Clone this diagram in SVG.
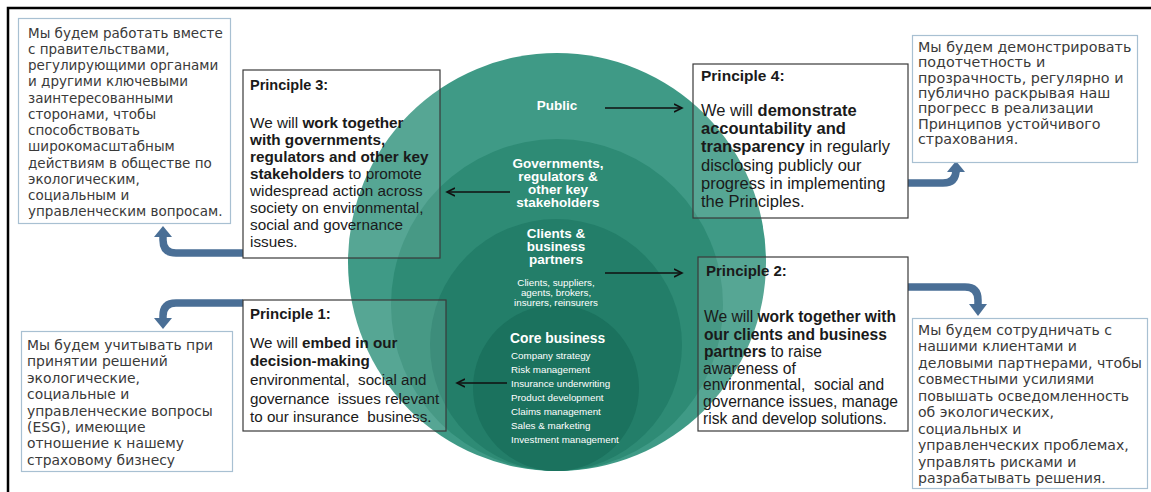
<svg xmlns="http://www.w3.org/2000/svg" width="1151" height="492" viewBox="0 0 1151 492">
<defs>
<style>
.ru{font-family:"DejaVu Sans","Noto Sans",sans-serif;fill:#3a3a3a}
.rbox{fill:#ffffff;stroke:#a8c0d2;stroke-width:1.2}
.pbox{fill:#ffffff;fill-opacity:0.12;stroke:#3a3a3a;stroke-width:1.2}
.pt{font-family:"Liberation Sans",Arial,sans-serif;fill:#1a1a1a}
.pt tspan.b{font-weight:bold}
.ct{font-family:"Liberation Sans",Arial,sans-serif;fill:#ffffff}
.blue{fill:none;stroke:#4a6f96;stroke-width:7.5}
.bhead{fill:#4a6f96}
.blk{fill:none;stroke:#111;stroke-width:1.6;marker-end:url(#ah)}
</style>
<marker id="ah" markerWidth="10" markerHeight="10" refX="8" refY="5" orient="auto" markerUnits="userSpaceOnUse">
<path d="M0,1 L8,5 L0,9" fill="none" stroke="#111" stroke-width="1.6"/>
</marker>
</defs>
<rect x="0" y="0" width="1151" height="492" fill="#ffffff"/>
<path d="M8,492 V8 H1151" fill="none" stroke="#000" stroke-width="2.5"/>

<g id="circles">
<circle cx="557" cy="262" r="209" fill="#3f9a86"/>
<circle cx="557" cy="305" r="166" fill="#2e8b75"/>
<circle cx="556" cy="345" r="126" fill="#237e69"/>
<circle cx="556" cy="388" r="83" fill="#1b725e"/>
</g>

<g id="circle-labels">
<text class="ct" x="557" y="110" font-size="13.5" font-weight="bold" text-anchor="middle">Public</text>
<text class="ct" font-size="13.5" font-weight="bold" text-anchor="middle"><tspan x="558" y="168">Governments,</tspan><tspan x="558" y="181">regulators &amp;</tspan><tspan x="558" y="194">other key</tspan><tspan x="558" y="207">stakeholders</tspan></text>
<text class="ct" font-size="13.5" font-weight="bold" text-anchor="middle"><tspan x="556" y="238">Clients &amp;</tspan><tspan x="556" y="251">business</tspan><tspan x="556" y="264">partners</tspan></text>
<text class="ct" font-size="9.8" text-anchor="middle"><tspan x="556" y="286">Clients, suppliers,</tspan><tspan x="556" y="296">agents, brokers,</tspan><tspan x="556" y="306">insurers, reinsurers</tspan></text>
<text class="ct" x="510" y="343" font-size="13.8" font-weight="bold">Core business</text>
<text class="ct" font-size="9.8"><tspan x="511" y="359">Company strategy</tspan><tspan x="511" y="373">Risk management</tspan><tspan x="511" y="387">Insurance underwriting</tspan><tspan x="511" y="401">Product development</tspan><tspan x="511" y="415">Claims management</tspan><tspan x="511" y="429">Sales &amp; marketing</tspan><tspan x="511" y="443">Investment management</tspan></text>
</g>

<g id="connectors">
<line class="blk" x1="605" y1="108" x2="682" y2="108"/>
<line class="blk" x1="510" y1="192" x2="447" y2="192"/>
<line class="blk" x1="605" y1="273" x2="682" y2="273"/>
<line class="blk" x1="507" y1="383" x2="457" y2="383"/>
<path class="blue" d="M243,253 H176 Q163,253 163,240 V236"/>
<path class="bhead" d="M154,237 L172,237 L163,226 Z"/>
<path class="blue" d="M243,303 H176 Q163,303 163,316 V319"/>
<path class="bhead" d="M154,318 L172,318 L163,329 Z"/>
<path class="blue" d="M908,183 H943 Q956,183 956,170 V173"/>
<path class="bhead" d="M947,172 L965,172 L956,161 Z"/>
<path class="blue" d="M908,287 H965 Q978,287 978,300 V305"/>
<path class="bhead" d="M969,304 L987,304 L978,316 Z"/>
</g>

<g id="ru-p3">
<rect class="rbox" x="18.5" y="18.5" width="212" height="205"/>
<text class="ru" font-size="13.5"><tspan x="28" y="38">Мы будем работать вместе</tspan><tspan x="28" y="54">с правительствами,</tspan><tspan x="28" y="70">регулирующими органами</tspan><tspan x="28" y="86">и другими ключевыми</tspan><tspan x="28" y="103">заинтересованными</tspan><tspan x="28" y="119">сторонами, чтобы</tspan><tspan x="28" y="135">способствовать</tspan><tspan x="28" y="151">широкомасштабным</tspan><tspan x="28" y="168">действиям в обществе по</tspan><tspan x="28" y="184">экологическим,</tspan><tspan x="28" y="200">социальным и</tspan><tspan x="28" y="216">управленческим вопросам.</tspan></text>
</g>

<g id="ru-p4">
<rect class="rbox" x="912.5" y="35.5" width="225" height="127"/>
<text class="ru" font-size="14.3"><tspan x="918" y="52">Мы будем демонстрировать</tspan><tspan x="918" y="67">подотчетность и</tspan><tspan x="918" y="83">прозрачность, регулярно и</tspan><tspan x="918" y="98">публично раскрывая наш</tspan><tspan x="918" y="113">прогресс в реализации</tspan><tspan x="918" y="129">Принципов устойчивого</tspan><tspan x="918" y="144">страхования.</tspan></text>
</g>

<g id="ru-p1">
<rect class="rbox" x="21.5" y="331.5" width="211" height="140"/>
<text class="ru" font-size="13.9"><tspan x="27" y="350">Мы будем учитывать при</tspan><tspan x="27" y="366">принятии решений</tspan><tspan x="27" y="383">экологические,</tspan><tspan x="27" y="399">социальные и</tspan><tspan x="27" y="416">управленческие вопросы</tspan><tspan x="27" y="432">(ESG), имеющие</tspan><tspan x="27" y="448">отношение к нашему</tspan><tspan x="27" y="465">страховому бизнесу</tspan></text>
</g>

<g id="ru-p2">
<rect class="rbox" x="912.5" y="318.5" width="235" height="170"/>
<text class="ru" font-size="14.1"><tspan x="918" y="335">Мы будем сотрудничать с</tspan><tspan x="918" y="351">нашими клиентами и</tspan><tspan x="918" y="368">деловыми партнерами, чтобы</tspan><tspan x="918" y="384">совместными усилиями</tspan><tspan x="918" y="401">повышать осведомленность</tspan><tspan x="918" y="417">об экологических,</tspan><tspan x="918" y="434">социальных и</tspan><tspan x="918" y="450">управленческих проблемах,</tspan><tspan x="918" y="467">управлять рисками и</tspan><tspan x="918" y="483">разрабатывать решения.</tspan></text>
</g>

<g id="principle3">
<rect class="pbox" x="243" y="70" width="197" height="188"/>
<text class="pt" x="250" y="90" font-size="14.5" font-weight="bold">Principle 3:</text>
<text class="pt" font-size="15.3"><tspan x="250" y="128">We will <tspan class="b">work together</tspan></tspan><tspan x="250" y="145" class="b">with governments,</tspan><tspan x="250" y="162" class="b">regulators and other key</tspan><tspan x="250" y="179"><tspan class="b">stakeholders</tspan> to promote</tspan><tspan x="250" y="196">widespread action across</tspan><tspan x="250" y="213">society on environmental,</tspan><tspan x="250" y="230">social and governance</tspan><tspan x="250" y="247">issues.</tspan></text>
</g>

<g id="principle4">
<rect class="pbox" x="693" y="64" width="215" height="154"/>
<text class="pt" x="701" y="81" font-size="15.5" font-weight="bold">Principle 4:</text>
<text class="pt" font-size="16.5"><tspan x="701" y="116">We will <tspan class="b">demonstrate</tspan></tspan><tspan x="701" y="134" class="b">accountability and</tspan><tspan x="701" y="152"><tspan class="b">transparency</tspan> in regularly</tspan><tspan x="701" y="171">disclosing publicly our</tspan><tspan x="701" y="189">progress in implementing</tspan><tspan x="701" y="207">the Principles.</tspan></text>
</g>

<g id="principle2">
<rect class="pbox" x="698" y="257" width="210" height="174"/>
<text class="pt" x="706" y="276" font-size="15" font-weight="bold">Principle 2:</text>
<text class="pt" font-size="15.6" xml:space="preserve"><tspan x="704" y="322">We will <tspan class="b">work together with</tspan></tspan><tspan x="704" y="340" class="b">our clients and business</tspan><tspan x="704" y="357"><tspan class="b">partners</tspan> to raise</tspan><tspan x="703" y="374">awareness of</tspan><tspan x="703" y="390">environmental,  social and</tspan><tspan x="703" y="407">governance issues, manage</tspan><tspan x="703" y="424">risk and develop solutions.</tspan></text>
</g>

<g id="principle1">
<rect class="pbox" x="243" y="300" width="203" height="131"/>
<text class="pt" x="250" y="319" font-size="15" font-weight="bold">Principle 1:</text>
<text class="pt" font-size="15.2" xml:space="preserve"><tspan x="250" y="348">We will <tspan class="b">embed in our</tspan></tspan><tspan x="250" y="366" class="b">decision-making</tspan><tspan x="250" y="385">environmental,  social and</tspan><tspan x="250" y="404">governance  issues relevant</tspan><tspan x="250" y="422">to our insurance  business.</tspan></text>
</g>
</svg>
